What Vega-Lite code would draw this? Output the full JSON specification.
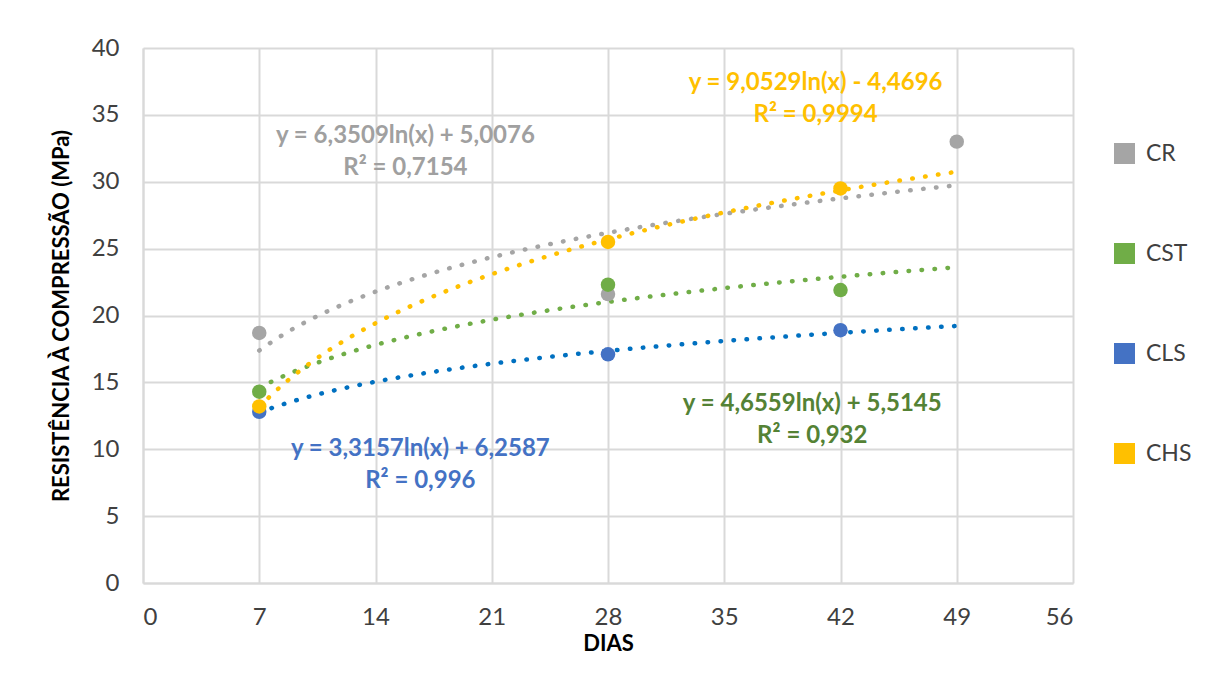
{
  "$schema": "https://vega.github.io/schema/vega-lite/v6.json",
  "autosize": {"type": "none"},
  "padding": {"left": 143, "top": 48, "right": 142, "bottom": 90},
  "width": 930,
  "height": 535,
  "background": "white",
  "config": {
    "font": "Lato",
    "view": {"stroke": null},
    "axis": {
      "gridColor": "#D9D9D9",
      "gridWidth": 2,
      "domainColor": "#D9D9D9",
      "domainWidth": 2,
      "ticks": false,
      "labelFont": "Lato",
      "labelFontSize": 24,
      "labelColor": "#404040",
      "titleFont": "Lato",
      "titleFontSize": 22,
      "titleFontWeight": "bold",
      "titleColor": "#000000"
    }
  },
  "datasets": {
    "pts": [
      {"serie": "CR", "dias": 7, "resistencia": 18.7},
      {"serie": "CR", "dias": 28, "resistencia": 21.6},
      {"serie": "CR", "dias": 49, "resistencia": 33.0},
      {"serie": "CST", "dias": 7, "resistencia": 14.3},
      {"serie": "CST", "dias": 28, "resistencia": 22.3},
      {"serie": "CST", "dias": 42, "resistencia": 21.9},
      {"serie": "CLS", "dias": 7, "resistencia": 12.8},
      {"serie": "CLS", "dias": 28, "resistencia": 17.1},
      {"serie": "CLS", "dias": 42, "resistencia": 18.9},
      {"serie": "CHS", "dias": 7, "resistencia": 13.2},
      {"serie": "CHS", "dias": 28, "resistencia": 25.5},
      {"serie": "CHS", "dias": 42, "resistencia": 29.5}
    ],
    "labels": [
      {"grupo": "CR", "dias": 15.8, "resistencia": 33.4, "label": "y = 6,3509ln(x) + 5,0076"},
      {"grupo": "CR", "dias": 15.8, "resistencia": 31.0, "label": "R² = 0,7154"},
      {"grupo": "CHS", "dias": 40.5, "resistencia": 37.4, "label": "y = 9,0529ln(x) - 4,4696"},
      {"grupo": "CHS", "dias": 40.5, "resistencia": 35.0, "label": "R² = 0,9994"},
      {"grupo": "CLS", "dias": 16.7, "resistencia": 10.0, "label": "y = 3,3157ln(x) + 6,2587"},
      {"grupo": "CLS", "dias": 16.7, "resistencia": 7.6, "label": "R² = 0,996"},
      {"grupo": "CST", "dias": 40.3, "resistencia": 13.4, "label": "y = 4,6559ln(x) + 5,5145"},
      {"grupo": "CST", "dias": 40.3, "resistencia": 11.0, "label": "R² = 0,932"}
    ]
  },
  "resolve": {"scale": {"color": "independent"}, "legend": {"color": "independent"}},
  "layer": [
    {
      "data": {"name": "pts"},
      "transform": [
        {"regression": "resistencia", "on": "dias", "groupby": ["serie"], "method": "log", "extent": [7, 49]}
      ],
      "mark": {"type": "line", "strokeWidth": 4.5, "strokeDash": [0.5, 12.5], "strokeCap": "round", "interpolate": "monotone"},
      "encoding": {
        "x": {"field": "dias", "type": "quantitative", "scale": {"domain": [0, 56], "nice": false}, "axis": {"values": [0, 7, 14, 21, 28, 35, 42, 49, 56], "title": "DIAS", "titlePadding": 4, "labelPadding": 22}},
        "y": {"field": "resistencia", "type": "quantitative", "scale": {"domain": [0, 40], "nice": false}, "axis": {"values": [0, 5, 10, 15, 20, 25, 30, 35, 40], "title": "RESISTÊNCIA À COMPRESSÃO (MPa)", "titlePadding": 18, "labelPadding": 24}},
        "color": {"field": "serie", "type": "nominal", "scale": {"domain": ["CR", "CST", "CLS", "CHS"], "range": ["#A5A5A5", "#70AD47", "#0070C0", "#FFC000"]}, "legend": null}
      }
    },
    {
      "data": {"name": "pts"},
      "mark": {"type": "circle", "size": 210, "opacity": 1},
      "encoding": {
        "x": {"field": "dias", "type": "quantitative"},
        "y": {"field": "resistencia", "type": "quantitative"},
        "color": {
          "field": "serie", "type": "nominal",
          "scale": {"domain": ["CR", "CST", "CLS", "CHS"], "range": ["#A5A5A5", "#70AD47", "#4472C4", "#FFC000"]},
          "legend": {
            "orient": "none", "legendX": 970, "legendY": 94, "padding": 0, "title": null,
            "symbolType": "square", "symbolSize": 441, "symbolStrokeWidth": 0, "symbolOpacity": 1,
            "labelFont": "Lato", "labelFontSize": 23, "labelColor": "#404040", "labelOffset": 10,
            "rowPadding": 76
          }
        },
        "order": {"field": "dias"}
      }
    },
    {
      "data": {"name": "labels"},
      "mark": {"type": "text", "font": "Lato", "fontSize": 24, "fontWeight": "bold", "align": "center", "baseline": "middle"},
      "encoding": {
        "x": {"field": "dias", "type": "quantitative"},
        "y": {"field": "resistencia", "type": "quantitative"},
        "text": {"field": "label"},
        "color": {"field": "grupo", "type": "nominal", "scale": {"domain": ["CR", "CST", "CLS", "CHS"], "range": ["#A0A0A0", "#548235", "#4472C4", "#FFC000"]}, "legend": null}
      }
    }
  ]
}
